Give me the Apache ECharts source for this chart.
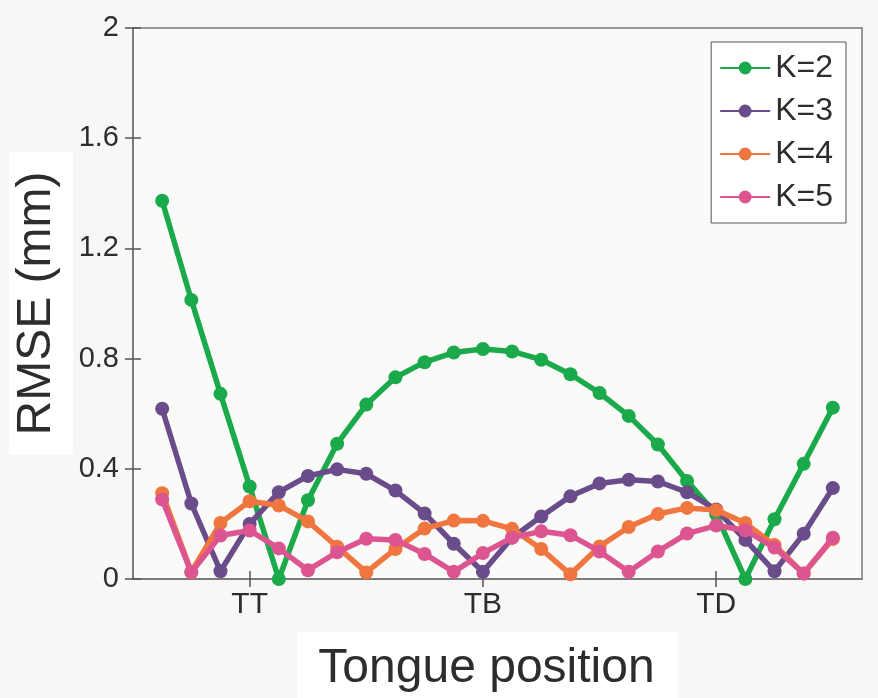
<!DOCTYPE html>
<html>
<head>
<meta charset="utf-8">
<script src="https://cdn.jsdelivr.net/npm/echarts@6/dist/echarts.min.js"></script>
<style>html,body{margin:0;padding:0;background:#f7f7f5;}#c{width:878px;height:698px;}</style>
</head>
<body>
<div id="c"></div>
<script>
// Data
const positions = [1,2,3,4,5,6,7,8,9,10,11,12,13,14,15,16,17,18,19,20,21,22,23,24];
const tickPositions = [4, 12, 20];
const tickLabels = ['TT', 'TB', 'TD'];
const seriesNames = ['K=2', 'K=3', 'K=4', 'K=5'];
const k2 = [1.373,1.013,0.672,0.336,0.0,0.286,0.491,0.633,0.732,0.787,0.822,0.835,0.826,0.796,0.743,0.675,0.592,0.488,0.356,0.235,0.0,0.217,0.418,0.622];
const k3 = [0.618,0.274,0.028,0.200,0.315,0.374,0.398,0.382,0.321,0.238,0.128,0.026,0.150,0.227,0.300,0.347,0.360,0.354,0.315,0.252,0.142,0.028,0.164,0.330];
const k4 = [0.311,0.026,0.203,0.282,0.267,0.209,0.117,0.024,0.109,0.183,0.212,0.211,0.182,0.109,0.017,0.118,0.189,0.236,0.258,0.250,0.203,0.123,0.020,0.145];
const k5 = [0.289,0.024,0.158,0.176,0.111,0.032,0.097,0.146,0.142,0.091,0.026,0.094,0.150,0.173,0.159,0.100,0.026,0.100,0.165,0.194,0.177,0.114,0.020,0.150];
const colors = ['#1aa94b', '#6a4c8b', '#f07640', '#dc5590'];

const chart = echarts.init(document.getElementById('c'), null, {renderer: 'canvas'});
const allValues = [k2, k3, k4, k5];
const series = allValues.map((vals, i) => ({
  name: seriesNames[i],
  type: 'line',
  data: positions.map((p, j) => [p, vals[j]]),
  symbol: 'circle',
  symbolSize: 14,
  lineStyle: {width: 5.5, color: colors[i]},
  itemStyle: {color: colors[i]},
  emphasis: {disabled: true},
  animation: false,
  z: 2 + i
}));

const axisLine = {show: true, lineStyle: {color: '#7a7a7a', width: 1.5}};
const font = 'Liberation Sans, Arial, sans-serif';

chart.setOption({
  backgroundColor: '#f7f7f5',
  animation: false,
  grid: {left: 133, right: 16, top: 28, bottom: 104, show: true, backgroundColor: '#fafaf8', borderColor: '#7a7a7a', borderWidth: 1.5},
  graphic: [
    {type: 'rect', shape: {x: 9, y: 152, width: 64, height: 303}, style: {fill: '#ffffff'}, z: -10, silent: true},
    {type: 'rect', shape: {x: 297, y: 632, width: 381, height: 66}, style: {fill: '#ffffff'}, z: -10, silent: true}
  ],
  legend: {
    data: seriesNames,
    right: 32, top: 42,
    orient: 'vertical',
    backgroundColor: '#ffffff',
    borderColor: '#555',
    borderWidth: 1,
    padding: [10, 13, 10, 8],
    itemGap: 11,
    itemWidth: 50,
    itemHeight: 16,
    textStyle: {fontSize: 32, color: '#2d2d2d', fontFamily: font},
    selectedMode: false
  },
  xAxis: [{
    type: 'value', min: 0, max: 25,
    name: 'Tongue position', nameLocation: 'middle', nameGap: 66,
    nameTextStyle: {fontSize: 48, color: '#2d2d2d', fontFamily: font, padding: [0, 22, 0, 0]},
    axisLine: axisLine,
    splitLine: {show: false},
    axisTick: {show: true, inside: true, length: 8, customValues: tickPositions, lineStyle: {color: '#555', width: 1.5}},
    axisLabel: {show: true, customValues: tickPositions, margin: 11, fontSize: 30, color: '#2d2d2d', fontFamily: font,
      formatter: v => tickLabels[tickPositions.indexOf(v)] || ''}
  }, {
    type: 'value', min: 0, max: 25, position: 'top',
    axisLine: axisLine, splitLine: {show: false},
    axisTick: {show: true, inside: true, length: 8, customValues: tickPositions, lineStyle: {color: '#555', width: 1.5}},
    axisLabel: {show: false}
  }],
  yAxis: [{
    type: 'value', min: 0, max: 2, interval: 0.4,
    name: 'RMSE (mm)', nameLocation: 'middle', nameGap: 72,
    nameTextStyle: {fontSize: 48, color: '#2d2d2d', fontFamily: font},
    axisLine: axisLine, splitLine: {show: false},
    axisTick: {show: true, inside: true, length: 8, lineStyle: {color: '#555', width: 1.5}},
    axisLabel: {fontSize: 29, color: '#2d2d2d', fontFamily: font, margin: 14,
      formatter: v => (Math.round(v * 10) / 10).toString()}
  }, {
    type: 'value', min: 0, max: 2, interval: 0.4, position: 'right',
    axisLine: axisLine, splitLine: {show: false},
    axisTick: {show: true, inside: true, length: 8, lineStyle: {color: '#555', width: 1.5}},
    axisLabel: {show: false}
  }],
  series: series
});
</script>
</body>
</html>
